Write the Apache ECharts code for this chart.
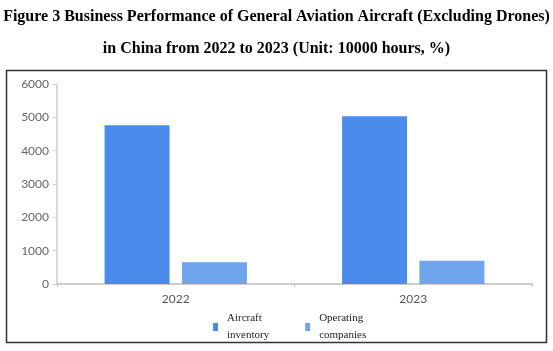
<!DOCTYPE html>
<html>
<head>
<meta charset="utf-8">
<script src="https://cdn.jsdelivr.net/npm/echarts@6/dist/echarts.min.js"></script>
<style>
  html, body { margin: 0; padding: 0; background: #fff; }
  #chart { width: 553px; height: 351px; }
</style>
</head>
<body>
<div id="chart"></div>
<script>
// values
const years = ['2022', '2023'];
const aircraftInventory = [4760, 5030];
const operatingCompanies = [650, 700];
const seriesNames = ['Aircraft\ninventory', 'Operating\ncompanies'];

const chart = echarts.init(document.getElementById('chart'));

const option = {
    animation: false,
    title: [
        {
            text: 'Figure 3 Business Performance of General Aviation Aircraft (Excluding Drones)',
            left: 'center',
            top: 4,
            textStyle: { fontFamily: 'Liberation Serif', fontWeight: 'bold', fontSize: 16, color: '#000' }
        },
        {
            text: 'in China from 2022 to 2023 (Unit: 10000 hours, %)',
            left: 'center',
            top: 36,
            textStyle: { fontFamily: 'Liberation Serif', fontWeight: 'bold', fontSize: 16, color: '#000' }
        }
    ],
    graphic: [
        {
            type: 'rect',
            shape: { x: 6.5, y: 70.5, width: 540, height: 272 },
            style: { fill: 'none', stroke: '#333', lineWidth: 1.5 },
            silent: true
        }
    ],
    legend: {
        left: 208,
        top: 305,
        itemWidth: 5,
        itemHeight: 8,
        itemGap: 36,
        icon: 'rect',
        textStyle: { fontFamily: 'Liberation Serif', fontSize: 11, color: '#222', lineHeight: 17, padding: [0, 0, 0, 4] },
        data: seriesNames
    },
    grid: { left: 57, right: 21, top: 84, bottom: 67 },
    xAxis: {
        type: 'category',
        data: years,
        axisLine: { lineStyle: { color: '#bdbdbd', width: 1.5 } },
        axisTick: { show: true, length: 3, lineStyle: { color: '#bdbdbd' } },
        axisLabel: { fontFamily: 'Lato', fontSize: 12, color: '#555', margin: 9 }
    },
    yAxis: {
        type: 'value',
        min: 0,
        max: 6000,
        interval: 1000,
        splitLine: { show: false },
        axisLine: { show: true, lineStyle: { color: '#cfcfcf', width: 1.5 } },
        axisTick: { show: true, length: 4, lineStyle: { color: '#cfcfcf' } },
        axisLabel: { fontFamily: 'Lato', fontSize: 12, color: '#666', margin: 8, formatter: v => String(v) }
    },
    series: [
        {
            name: seriesNames[0],
            type: 'bar',
            data: aircraftInventory,
            barWidth: 65,
            barGap: '19%',
            itemStyle: { color: '#4a8cec' }
        },
        {
            name: seriesNames[1],
            type: 'bar',
            data: operatingCompanies,
            barWidth: 65,
            itemStyle: { color: '#6fa5ec' }
        }
    ]
};

chart.setOption(option);
</script>
</body>
</html>
